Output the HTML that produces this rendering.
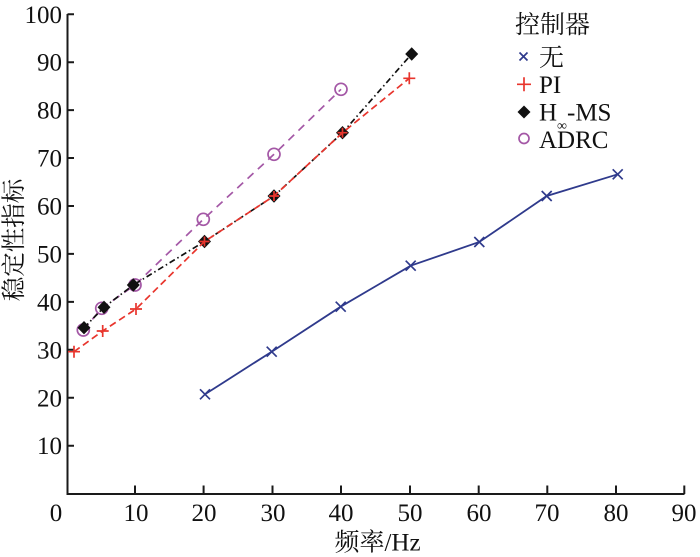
<!DOCTYPE html>
<html><head><meta charset="utf-8"><style>
html,body{margin:0;padding:0;background:#fff;}
svg{display:block;}
text{font-family:"Liberation Serif","Noto Serif CJK SC",serif;fill:#111;}
</style></head><body>
<svg width="700" height="557" viewBox="0 0 700 557" xmlns="http://www.w3.org/2000/svg">
<rect width="700" height="557" fill="#fff"/>
<!-- axes -->
<g stroke="#1a1a1a" stroke-width="2" fill="none">
<path d="M67.5 14 V494 H684.5"/>
<path d="M67.5 14.3 h6.5 M67.5 62.2 h6.5 M67.5 110.1 h6.5 M67.5 158 h6.5 M67.5 206 h6.5 M67.5 253.9 h6.5 M67.5 301.9 h6.5 M67.5 349.8 h6.5 M67.5 397.8 h6.5 M67.5 445.7 h6.5"/>
<path d="M135 494 v-8.5 M203.6 494 v-8.5 M272.5 494 v-8.5 M341 494 v-8.5 M410 494 v-8.5 M478.7 494 v-8.5 M547.3 494 v-8.5 M616 494 v-8.5 M684.3 494 v-8.5"/>
</g>
<!-- y tick labels -->
<g font-size="25" text-anchor="end">
<text x="62" y="22.8">100</text>
<text x="62" y="70.7">90</text>
<text x="62" y="118.6">80</text>
<text x="62" y="166.5">70</text>
<text x="62" y="214.5">60</text>
<text x="62" y="262.4">50</text>
<text x="62" y="310.4">40</text>
<text x="62" y="358.3">30</text>
<text x="62" y="406.3">20</text>
<text x="62" y="454.2">10</text>
</g>
<!-- x tick labels -->
<g font-size="25" text-anchor="middle">
<text x="56" y="521">0</text>
<text x="136" y="521">10</text>
<text x="204" y="521">20</text>
<text x="273" y="521">30</text>
<text x="341" y="521">40</text>
<text x="410" y="521">50</text>
<text x="479" y="521">60</text>
<text x="547" y="521">70</text>
<text x="616" y="521">80</text>
<text x="684" y="521">90</text>
</g>
<!-- axis titles -->
<text x="377.5" y="550.5" font-size="25" text-anchor="middle">频率/Hz</text>
<text transform="translate(22,240) rotate(-90)" font-size="24.5" text-anchor="middle">稳定性指标</text>

<!-- ADRC -->
<polyline points="83.3,330 101.7,308.3 135,285 203.3,219.3 274,154.3 341,89.3" fill="none" stroke="#a458a6" stroke-width="1.7" stroke-dasharray="8,6"/>
<g fill="none" stroke="#a458a6" stroke-width="1.7">
<circle cx="83.3" cy="330" r="6"/><circle cx="101.7" cy="308.3" r="6"/><circle cx="135" cy="285" r="6"/>
<circle cx="203.3" cy="219.3" r="6"/><circle cx="274" cy="154.3" r="6"/><circle cx="341" cy="89.3" r="6"/>
</g>
<!-- H-inf MS -->
<polyline points="84,327.7 104,307.3 133.3,285 204.5,241.5 274,196 342.5,132.7 411.7,54" fill="none" stroke="#111" stroke-width="1.7" stroke-dasharray="6,3,1.5,3"/>
<g fill="#111">
<path d="M84 321 l6.5 6.7 l-6.5 6.7 l-6.5 -6.7z"/>
<path d="M104 300.6 l6.5 6.7 l-6.5 6.7 l-6.5 -6.7z"/>
<path d="M133.3 278.3 l6.5 6.7 l-6.5 6.7 l-6.5 -6.7z"/>
<path d="M204.5 234.8 l6.5 6.7 l-6.5 6.7 l-6.5 -6.7z"/>
<path d="M274 189.3 l6.5 6.7 l-6.5 6.7 l-6.5 -6.7z"/>
<path d="M342.5 126 l6.5 6.7 l-6.5 6.7 l-6.5 -6.7z"/>
<path d="M411.7 47.3 l6.5 6.7 l-6.5 6.7 l-6.5 -6.7z"/>
</g>
<!-- PI -->
<polyline points="74,351.7 102.7,331 136,309 204.5,241.5 274,196 342.5,132.7 409.3,78.3" fill="none" stroke="#e8352d" stroke-width="1.7" stroke-dasharray="7,4"/>
<g stroke="#e8352d" stroke-width="1.7" fill="none">
<path d="M68 351.7 h12 M74 345.7 v12"/>
<path d="M96.7 331 h12 M102.7 325 v12"/>
<path d="M130 309 h12 M136 303 v12"/>
<path d="M199.5 241.5 h10 M204.5 236.5 v10"/>
<path d="M269 196 h10 M274 191 v10"/>
<path d="M337.5 132.7 h10 M342.5 127.7 v10"/>
<path d="M403.3 78.3 h12 M409.3 72.3 v12"/>
</g>
<!-- 无 -->
<polyline points="205,394.3 271.7,351.7 340.7,306.7 410.7,265.7 479.3,242 546.7,196 617.7,174.3" fill="none" stroke="#2f3a8c" stroke-width="1.8"/>
<g stroke="#2f3a8c" stroke-width="1.7">
<path d="M200 389.3 l10 10 M210 389.3 l-10 10"/>
<path d="M266.7 346.7 l10 10 M276.7 346.7 l-10 10"/>
<path d="M335.7 301.7 l10 10 M345.7 301.7 l-10 10"/>
<path d="M405.7 260.7 l10 10 M415.7 260.7 l-10 10"/>
<path d="M474.3 237 l10 10 M484.3 237 l-10 10"/>
<path d="M541.7 191 l10 10 M551.7 191 l-10 10"/>
<path d="M612.7 169.3 l10 10 M622.7 169.3 l-10 10"/>
</g>

<!-- legend -->
<text x="515" y="33" font-size="25">控制器</text>
<path d="M519.5 52.5 l8 8 M527.5 52.5 l-8 8" stroke="#2f3a8c" stroke-width="1.7"/>
<text x="539" y="66" font-size="25">无</text>
<path d="M517 84.3 h14 M524 77.3 v14" stroke="#e8352d" stroke-width="1.7"/>
<text x="539" y="93" font-size="25">PI</text>
<path d="M524 105.5 l6.5 6.5 l-6.5 6.5 l-6.5 -6.5z" fill="#111"/>
<text x="539" y="120.5" font-size="25">H</text>
<text x="557" y="130" font-size="14">∞</text>
<text x="567" y="120.5" font-size="25">-MS</text>
<circle cx="524" cy="138.5" r="5" fill="none" stroke="#a458a6" stroke-width="1.7"/>
<text x="539" y="148" font-size="25">ADRC</text>
</svg>
</body></html>
